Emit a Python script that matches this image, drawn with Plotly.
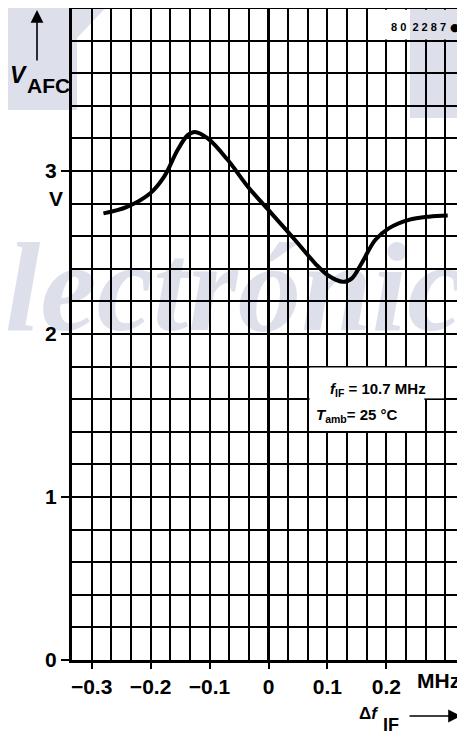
import plotly.graph_objects as go

# ---------------- data ----------------
df_mhz = [-0.280, -0.240, -0.200, -0.177, -0.154, -0.137, -0.125, -0.103, -0.069,
          -0.035, 0.005, 0.045, 0.079, 0.100, 0.127, 0.141, 0.158, 0.181, 0.204,
          0.238, 0.272, 0.304]
v_afc = [2.74, 2.78, 2.865, 2.965, 3.13, 3.22, 3.24, 3.20, 3.067,
         2.904, 2.74, 2.577, 2.434, 2.362, 2.32, 2.34, 2.434, 2.577, 2.648,
         2.70, 2.72, 2.727]

x_tickvals = [-0.3, -0.2, -0.1, 0, 0.1, 0.2]
x_ticktext = ["\u22120.3", "\u22120.2", "\u22120.1", "0", "0.1", "0.2"]
y_tickvals = [0, 1, 2, 3]
y_ticktext = ["0", "1", "2", "3"]

# ---------------- layout geometry ----------------
# the page body has an 8px margin, so the figure starts at (8, 8) in the window
OFF = 8
PAGE_W, PAGE_H = 465, 734
PLOT_L, PLOT_R, PLOT_T, PLOT_B = 72, 465, 8, 660   # plot area in window pixels
W, H = PAGE_W - OFF, PAGE_H - OFF
L, T = PLOT_L - OFF, PLOT_T - OFF
R = W - (PLOT_R - OFF)
B = H - (PLOT_B - OFF)
PW, PH = PLOT_R - PLOT_L, PLOT_B - PLOT_T


def px(xp):
    return (xp - PLOT_L) / PW


def py(yp):
    return (PLOT_B - yp) / PH


SANS = "Liberation Sans"
BLK = "#000000"
SHADE = "#dde0eb"

fig = go.Figure()
fig.add_trace(go.Scatter(
    x=df_mhz, y=v_afc, mode="lines",
    line=dict(color=BLK, width=4, shape="spline", smoothing=1.0),
    hoverinfo="skip", showlegend=False))

shapes = []
# watermark shading (below grid)
shapes.append(dict(type="rect", xref="paper", yref="paper", layer="below",
                   x0=px(410), x1=px(470), y0=py(118), y1=py(0),
                   fillcolor=SHADE, line=dict(width=0)))
shapes.append(dict(type="path", xref="paper", yref="paper", layer="below",
                   path=(f"M {px(0)},{py(0)} L {px(113)},{py(0)} L {px(77)},{py(38)} "
                         f"L {px(77)},{py(110)} L {px(0)},{py(110)} Z"),
                   fillcolor=SHADE, line=dict(width=0)))
shapes.append(dict(type="rect", xref="paper", yref="paper", layer="below",
                   x0=px(2), x1=px(700), y0=py(343), y1=py(150),
                   fillcolor="rgba(0,0,0,0)", line=dict(width=0),
                   label=dict(text="lectrónica", textposition="bottom left", padding=0,
                              font=dict(family="Liberation Serif", size=127,
                                        color=SHADE, weight="bold", style="italic"))))
# label boxes hiding grid lines
shapes.append(dict(type="rect", xref="x", yref="y", layer="between",
                   x0=0.169, x1=0.24, y0=3.806, y1=3.99,
                   fillcolor="white", line=dict(width=0)))
shapes.append(dict(type="rect", xref="x", yref="y", layer="between",
                   x0=0.24, x1=0.34, y0=3.806, y1=3.99,
                   fillcolor=SHADE, line=dict(width=0)))
shapes.append(dict(type="rect", xref="x", yref="y", layer="between",
                   x0=0.0695, x1=0.2645, y0=1.405, y1=1.795,
                   fillcolor="white", line=dict(width=0)))
shapes.append(dict(type="rect", xref="x", yref="y", layer="between",
                   x0=0.2645, x1=0.2975, y0=1.605, y1=1.795,
                   fillcolor="white", line=dict(width=0)))
# top border
shapes.append(dict(type="line", xref="paper", yref="paper", layer="above",
                   x0=0, x1=1, y0=1, y1=1, line=dict(color=BLK, width=2)))

ann = []


def text(x, y, s, size, xanchor="center", weight="bold", family=SANS):
    ann.append(dict(xref="paper", yref="paper", x=px(x), y=py(y), text=s,
                    showarrow=False, xanchor=xanchor, yanchor="middle",
                    font=dict(family=family, size=size, color=BLK, weight=weight)))


text(19, 75, "<i>V</i>", 23)
text(48, 86, "AFC", 21)
text(56, 198, "V", 21)
text(438, 680, "MHz", 21)
text(381, 713, "Δ<i>f</i>", 17, xanchor="right")
text(391, 725, "IF", 18)
text(418, 27, "8 0  2 2 8 7", 11)
text(455, 27, "●", 11, family="DejaVu Sans")
text(328, 390, "<i>f</i><sub>IF</sub> = 10.7 MHz", 15, xanchor="left")
text(314, 415, "<i>T</i><sub>amb</sub>= 25 °C", 15, xanchor="left")

# arrows
ann.append(dict(xref="paper", yref="paper", x=px(37), y=py(10), ax=0, ay=52,
                text="", showarrow=True, arrowhead=2, arrowsize=1.6,
                arrowwidth=1.6, arrowcolor=BLK, standoff=0, startstandoff=0))
ann.append(dict(xref="paper", yref="paper", x=px(461), y=py(716), ax=-53, ay=0,
                text="", showarrow=True, arrowhead=2, arrowsize=1.6,
                arrowwidth=1.6, arrowcolor=BLK, standoff=0, startstandoff=0))

fig.update_layout(
    width=W, height=H,
    margin=dict(l=L, r=R, t=T, b=B, pad=0),
    paper_bgcolor="white", plot_bgcolor="white",
    showlegend=False,
    shapes=shapes, annotations=ann,
    xaxis=dict(range=[-1/3, 1/3], tickvals=x_tickvals, ticktext=x_ticktext,
               showgrid=True, gridcolor=BLK, gridwidth=1.5,
               minor=dict(tick0=0, dtick=1/30, showgrid=True, gridcolor=BLK,
                          gridwidth=1.5, ticks=""),
               zeroline=True, zerolinecolor=BLK, zerolinewidth=2.6,
               showline=True, linecolor=BLK, linewidth=3,
               ticks="outside", ticklen=6, tickwidth=2, tickcolor=BLK,
               tickfont=dict(family=SANS, size=21, color=BLK, weight="bold"),
               fixedrange=True),
    yaxis=dict(range=[0, 4], tickvals=y_tickvals, ticktext=y_ticktext,
               showgrid=True, gridcolor=BLK, gridwidth=1.5,
               minor=dict(tick0=0, dtick=0.2, showgrid=True, gridcolor=BLK,
                          gridwidth=1.5, ticks=""),
               zeroline=False,
               showline=True, linecolor=BLK, linewidth=3,
               ticks="outside", ticklen=8, tickwidth=2, tickcolor=BLK,
               tickfont=dict(family=SANS, size=21, color=BLK, weight="bold"),
               fixedrange=True),
)

fig.write_html("out.html", config={"displayModeBar": False})
